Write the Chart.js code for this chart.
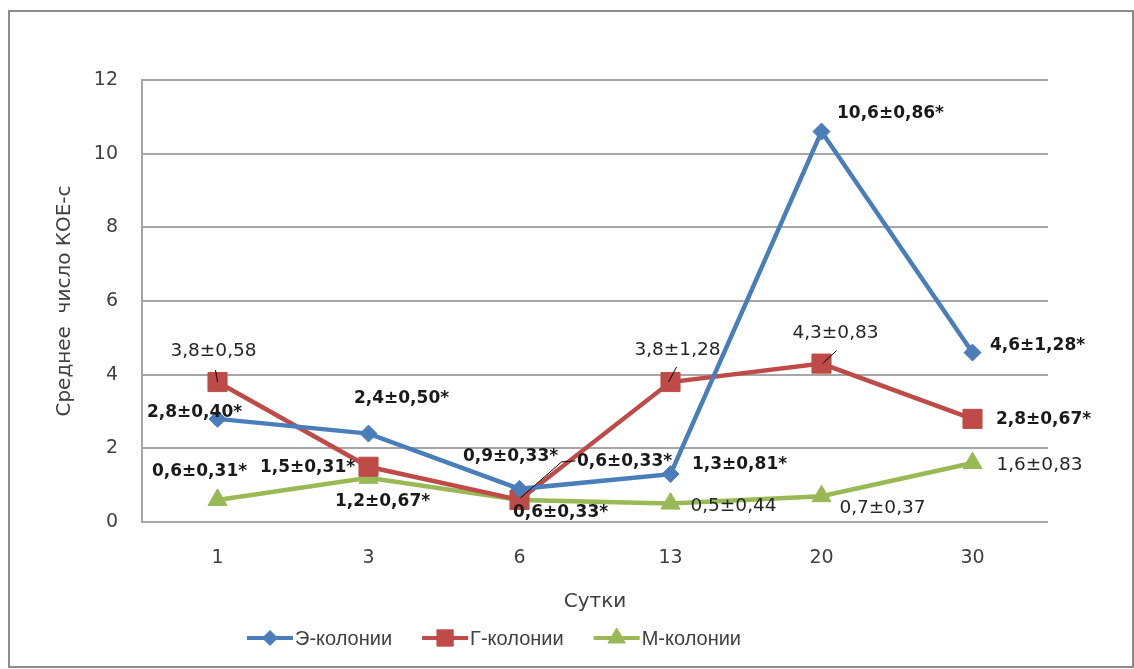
<!DOCTYPE html>
<html>
<head>
<meta charset="utf-8">
<title>КОЕ-с</title>
<script src="https://cdn.jsdelivr.net/npm/chart.js@4.4.1/dist/chart.umd.min.js"></script>
<style>
  html, body { margin: 0; padding: 0; background: #fff; }
  #wrap { width: 1134px; height: 669px; }
</style>
</head>
<body>
<div id="wrap"><canvas id="koeChart" width="1134" height="669"></canvas></div>
<script>
// days of observation
const days = ['1', '3', '6', '13', '20', '30'];

// Э-колонии
const eMean = [2.8, 2.4, 0.9, 1.3, 10.6, 4.6];
const eSd   = [0.40, 0.50, 0.33, 0.81, 0.86, 1.28];
const eSig  = [true, true, true, true, true, true];

// Г-колонии
const gMean = [3.8, 1.5, 0.6, 3.8, 4.3, 2.8];
const gSd   = [0.58, 0.31, 0.33, 1.28, 0.83, 0.67];
const gSig  = [false, true, true, false, false, true];

// М-колонии
const mMean = [0.6, 1.2, 0.6, 0.5, 0.7, 1.6];
const mSd   = [0.31, 0.67, 0.33, 0.44, 0.37, 0.83];
const mSig  = [true, true, true, false, false, false];

const yMin = 0, yMax = 12, yStep = 2;

const BLUE = '#4a7ebb';
const RED = '#be4b48';
const GREEN = '#98b954';
const GRID = '#a6a6a6';
const TEXT = '#404040';

// where each value label sits, relative to its point (px)
const labelOffsets = [
  [[-23, -6], [33, -35], [-9, -32], [69, -10], [69, -18], [65, -7]],
  [[-4, -31], [-61, 1], [105, -38], [7, -32], [14, -30], [71, 1]],
  [[-18, -28], [14, 24], [41, 13], [63, 3], [61, 12], [67, 2]]
];
// thin leader lines for labels that were pulled away from their points
const leaderLines = {
  '1-0': [[0, 0], [-2, -12]],
  '1-2': [[1, -2], [42, -38], [56, -39]],
  '1-3': [[-2, 0], [6, -15]],
  '1-4': [[1, 0], [15, -13]]
};

const fmt = (v, d) => v.toFixed(d).replace('.', ',');
const makeLabels = (mean, sd, sig) =>
  mean.map((v, i) => fmt(v, 1) + '±' + fmt(sd[i], 2) + (sig[i] ? '*' : ''));

const series = [
  { name: 'Э-колонии', data: eMean, labels: makeLabels(eMean, eSd, eSig), sig: eSig,
    color: BLUE, style: 'rectRot', radius: 8.5, legendRadius: 7.5 },
  { name: 'Г-колонии', data: gMean, labels: makeLabels(gMean, gSd, gSig), sig: gSig,
    color: RED, style: 'rect', radius: 13.5, legendRadius: 11.5 },
  { name: 'М-колонии', data: mMean, labels: makeLabels(mMean, mSd, mSig), sig: mSig,
    color: GREEN, style: 'triangle', radius: 11, legendRadius: 10 }
];

// grey frame round the whole chart
const frame = {
  id: 'frame',
  beforeDraw(chart) {
    const ctx = chart.ctx;
    ctx.save();
    ctx.fillStyle = '#fff';
    ctx.fillRect(0, 0, chart.width, chart.height);
    ctx.strokeStyle = '#8c8c8c';
    ctx.lineWidth = 2;
    ctx.strokeRect(9, 11, 1124, 656);
    ctx.restore();
  }
};

// "mean±sd" labels next to every point
const valueLabels = {
  id: 'valueLabels',
  afterDatasetsDraw(chart) {
    const ctx = chart.ctx;
    ctx.save();
    ctx.textAlign = 'center';
    ctx.textBaseline = 'middle';
    series.forEach((s, i) => {
      const meta = chart.getDatasetMeta(i);
      meta.data.forEach((pt, j) => {
        const lead = leaderLines[i + '-' + j];
        if (lead) {
          ctx.strokeStyle = '#000';
          ctx.lineWidth = 1;
          ctx.beginPath();
          lead.forEach(([lx, ly], k) => {
            if (k === 0) ctx.moveTo(pt.x + lx, pt.y + ly);
            else ctx.lineTo(pt.x + lx, pt.y + ly);
          });
          ctx.stroke();
        }
        const [dx, dy] = labelOffsets[i][j];
        ctx.font = s.sig[j] ? 'bold 17px "DejaVu Sans"' : '18.5px "DejaVu Sans"';
        ctx.fillStyle = s.sig[j] ? '#1a1a1a' : '#262626';
        ctx.fillText(s.labels[j], pt.x + dx, pt.y + dy);
      });
    });
    ctx.restore();
  }
};

// legend: short line with marker, then the series name
const lineLegend = {
  id: 'lineLegend',
  afterDraw(chart) {
    const ctx = chart.ctx;
    const y = 638;
    let x = 247;
    ctx.save();
    ctx.font = '20px "Liberation Sans"';
    ctx.textBaseline = 'middle';
    ctx.textAlign = 'left';
    series.forEach(s => {
      ctx.strokeStyle = s.color;
      ctx.fillStyle = s.color;
      ctx.lineWidth = 4;
      ctx.beginPath();
      ctx.moveTo(x, y);
      ctx.lineTo(x + 46, y);
      ctx.stroke();
      ctx.lineWidth = 1;
      Chart.helpers.drawPoint(ctx, { pointStyle: s.style, radius: s.legendRadius, rotation: 0, borderWidth: 1 }, x + 23, y);
      ctx.fillStyle = TEXT;
      ctx.fillText(s.name, x + 48, y + 1);
      x += 48 + ctx.measureText(s.name).width + 30;
    });
    ctx.restore();
  }
};

new Chart(document.getElementById('koeChart'), {
  type: 'line',
  data: {
    labels: days,
    datasets: series.map(s => ({
      label: s.name,
      data: s.data,
      borderColor: s.color,
      backgroundColor: s.color,
      borderWidth: 4.5,
      tension: 0,
      pointStyle: s.style,
      pointRadius: s.radius,
      pointHoverRadius: s.radius,
      pointBorderWidth: 1,
      pointBackgroundColor: s.color,
      pointBorderColor: s.color
    }))
  },
  options: {
    responsive: false,
    animation: false,
    layout: { padding: { top: 80, right: 86, left: 0, bottom: 0 } },
    plugins: {
      legend: { display: false },
      tooltip: { enabled: false }
    },
    scales: {
      x: {
        offset: true,
        grid: { display: false, drawTicks: false },
        border: { display: false },
        ticks: { color: TEXT, font: { family: 'DejaVu Sans', size: 19 }, padding: 25 },
        title: {
          display: true, text: 'Сутки', color: TEXT,
          font: { family: 'DejaVu Sans', size: 20 },
          padding: { top: 0, bottom: 55 }
        },
        afterFit(scale) { scale.height = 147; }
      },
      y: {
        min: yMin,
        max: yMax,
        grid: { color: GRID, lineWidth: 2, drawTicks: false },
        border: { display: true, color: GRID, width: 2 },
        ticks: { stepSize: yStep, color: TEXT, font: { family: 'DejaVu Sans', size: 19 }, padding: 24 },
        title: {
          display: true, text: 'Среднее  число КОЕ-с', color: TEXT,
          font: { family: 'DejaVu Sans', size: 20 },
          padding: { top: 53, bottom: 0 }
        },
        afterFit(scale) { scale.width = 142; }
      }
    }
  },
  plugins: [frame, valueLabels, lineLegend]
});
</script>
</body>
</html>
